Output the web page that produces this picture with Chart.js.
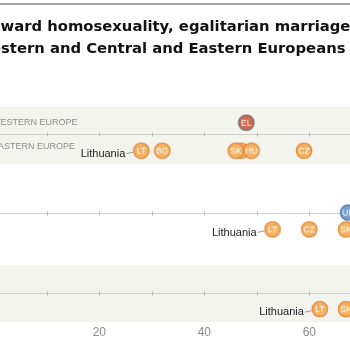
<!DOCTYPE html>
<html lang="en">
<head>
  <meta charset="UTF-8">
  <title>Attitudes toward homosexuality</title>
  <script src="https://cdn.jsdelivr.net/npm/chart.js"></script>
  <style>
    * { box-sizing: border-box; }
    html, body {
      margin: 0;
      width: 350px;
      height: 350px;
      overflow: hidden;
      background: #fff;
      font-family: "Liberation Sans", Arial, sans-serif;
    }
    #wrap { position: absolute; left: 0; top: 0; width: 350px; height: 350px; }
    .rule { position: absolute; left: 0; top: 3px; width: 350px; height: 2px; background: #a3a3a3; }
    .title {
      position: absolute;
      white-space: nowrap;
      font-family: "DejaVu Sans", sans-serif;
      font-weight: bold;
      font-size: 14.8px;
      line-height: 18px;
      color: #111;
    }
  </style>
</head>
<body>
  <div id="wrap"><canvas id="chart" width="350" height="350"></canvas></div>
  <div class="rule"></div>
  <div class="title" id="t1"><span class="cut">to</span>ward homosexuality, egalitarian marriage</div>
  <div class="title" id="t2"><span class="cut">We</span>stern and Central and Eastern Europeans</div>

  <script>
    // tick values along the percentage axis, only every other one gets a label
    const xTicks = [10, 20, 30, 40, 50, 60];
    const xLabeled = [20, 40, 60];

    // panel 1
    const p1WestCodes = ['EL'];
    const p1WestValues = [48];
    const p1EastCodes = ['PL', 'LT', 'BG', 'SK', 'HU', 'CZ'];
    const p1EastValues = [47, 28, 32, 46, 49, 59];

    // panel 2
    const p2WestCodes = ['UK'];
    const p2WestValues = [67.4];
    const p2EastCodes = ['LT', 'CZ', 'SK'];
    const p2EastValues = [53, 60, 67];

    // panel 3
    const p3EastCodes = ['LT', 'SK'];
    const p3EastValues = [62, 67];

    const rowLabels = ['WESTERN EUROPE', 'EASTERN EUROPE'];
    const noteLabel = 'Lithuania';

    // vertical layout, in row units
    const rowY = { p1west: 1, p1axis: 1.41, p1east: 2, p2axis: 4.21, p2east: 4.81, p3axis: 7.07, p3east: 7.66 };
    const axisRows = [rowY.p1axis, rowY.p2axis, rowY.p3axis];
    const bands = [[0.43, 2.47], [6.08, 8.12]];

    // title: hide the clipped prefix off the left edge
    function placeTitle(id, baseline, x) {
      const el = document.getElementById(id);
      const cut = el.querySelector('.cut').getBoundingClientRect().width;
      const fs = 14.8, lh = 18;
      el.style.left = (x - cut) + 'px';
      el.style.top = (baseline - ((lh - 1.164 * fs) / 2 + 0.928 * fs)) + 'px';
    }
    placeTitle('t1', 30.7, 0.5);
    placeTitle('t2', 53.3, 1);

    function makeDot(code, fill, stroke) {
      const c = document.createElement('canvas');
      c.width = 20; c.height = 20;
      const g = c.getContext('2d');
      g.beginPath();
      g.arc(10, 10, 7.7, 0, Math.PI * 2);
      g.fillStyle = fill;
      g.fill();
      g.lineWidth = 1.3;
      g.strokeStyle = stroke;
      g.stroke();
      g.fillStyle = '#fff';
      g.font = '8.5px "Liberation Sans", Arial, sans-serif';
      g.textAlign = 'center';
      g.textBaseline = 'middle';
      g.fillText(code, 10, 10.5);
      return c;
    }

    const orange = ['#f2b263', '#e5893c'];
    const red = ['#cf6b4d', '#6e6e6e'];
    const blue = ['#7d9ecb', '#5577a5'];

    function dotSet(codes, values, y, colors) {
      const icons = codes.map(c => makeDot(c, colors[0], colors[1]));
      return {
        codes: codes,
        data: values.map(v => ({ x: v, y: y })),
        pointStyle: ctx => icons[ctx.dataIndex],
        pointRadius: 8,
        clip: false
      };
    }

    const panelPlugin = {
      id: 'panels',
      beforeDatasetsDraw(chart) {
        const ctx = chart.ctx;
        const xs = chart.scales.x;
        const ys = chart.scales.y;
        ctx.save();
        ctx.fillStyle = '#f4f4ef';
        bands.forEach(b => {
          const top = ys.getPixelForValue(b[0]);
          const bot = ys.getPixelForValue(b[1]);
          ctx.fillRect(0, top, chart.width, bot - top);
        });
        axisRows.forEach(r => {
          const y = Math.round(ys.getPixelForValue(r)) + 0.5;
          ctx.strokeStyle = '#cfcfcb';
          ctx.lineWidth = 1;
          ctx.beginPath();
          ctx.moveTo(0, y);
          ctx.lineTo(chart.width, y);
          ctx.stroke();
          ctx.strokeStyle = '#b8b8b4';
          xTicks.forEach(t => {
            const x = Math.round(xs.getPixelForValue(t)) + 0.5;
            ctx.beginPath();
            ctx.moveTo(x, y - 2);
            ctx.lineTo(x, y + 2);
            ctx.stroke();
          });
        });
        ctx.fillStyle = '#8c8c8c';
        ctx.font = '9px "Liberation Sans", Arial, sans-serif';
        ctx.textAlign = 'left';
        ctx.textBaseline = 'middle';
        ctx.fillText(rowLabels[0], -8, ys.getPixelForValue(rowY.p1west));
        ctx.fillText(rowLabels[1], -8, ys.getPixelForValue(rowY.p1east - 0.14));
        ctx.restore();
      },
      afterDatasetsDraw(chart) {
        const ctx = chart.ctx;
        ctx.save();
        ctx.font = '11px "Liberation Sans", Arial, sans-serif';
        ctx.fillStyle = '#222';
        ctx.strokeStyle = '#999';
        ctx.lineWidth = 1;
        ctx.textAlign = 'right';
        ctx.textBaseline = 'middle';
        chart.data.datasets.forEach((ds, i) => {
          const idx = ds.codes.indexOf('LT');
          if (idx < 0) return;
          const el = chart.getDatasetMeta(i).data[idx];
          const tx = el.x - 16;
          ctx.fillText(noteLabel, tx, el.y + 3.2);
          ctx.beginPath();
          ctx.moveTo(tx + 1, el.y + 3);
          ctx.lineTo(el.x - 8, el.y + 1.5);
          ctx.stroke();
        });
        ctx.restore();
      }
    };

    new Chart(document.getElementById('chart'), {
      type: 'scatter',
      data: {
        datasets: [
          dotSet(p1WestCodes, p1WestValues, rowY.p1west, red),
          dotSet(p1EastCodes, p1EastValues, rowY.p1east, orange),
          dotSet(p2EastCodes, p2EastValues, rowY.p2east, orange),
          dotSet(p2WestCodes, p2WestValues, rowY.p2axis, blue),
          dotSet(p3EastCodes, p3EastValues, rowY.p3east, orange)
        ]
      },
      options: {
        responsive: false,
        animation: false,
        events: [],
        layout: { padding: 0, autoPadding: false },
        plugins: {
          legend: { display: false },
          tooltip: { enabled: false }
        },
        scales: {
          x: {
            type: 'linear',
            min: 1.086,
            max: 67.75,
            grid: { display: false, drawTicks: false },
            border: { display: false },
            afterFit(scale) { scale.height = 28; },
            afterBuildTicks(scale) { scale.ticks = xTicks.map(v => ({ value: v })); },
            ticks: {
              autoSkip: false,
              maxRotation: 0,
              padding: 3,
              color: '#8a8a8a',
              font: { family: '"Liberation Sans", Arial, sans-serif', size: 12 },
              callback: v => xLabeled.includes(v) ? String(v) : ''
            }
          },
          y: {
            type: 'linear',
            display: false,
            reverse: true,
            min: -3.382,
            max: 8.118
          }
        }
      },
      plugins: [panelPlugin]
    });
  </script>
</body>
</html>
